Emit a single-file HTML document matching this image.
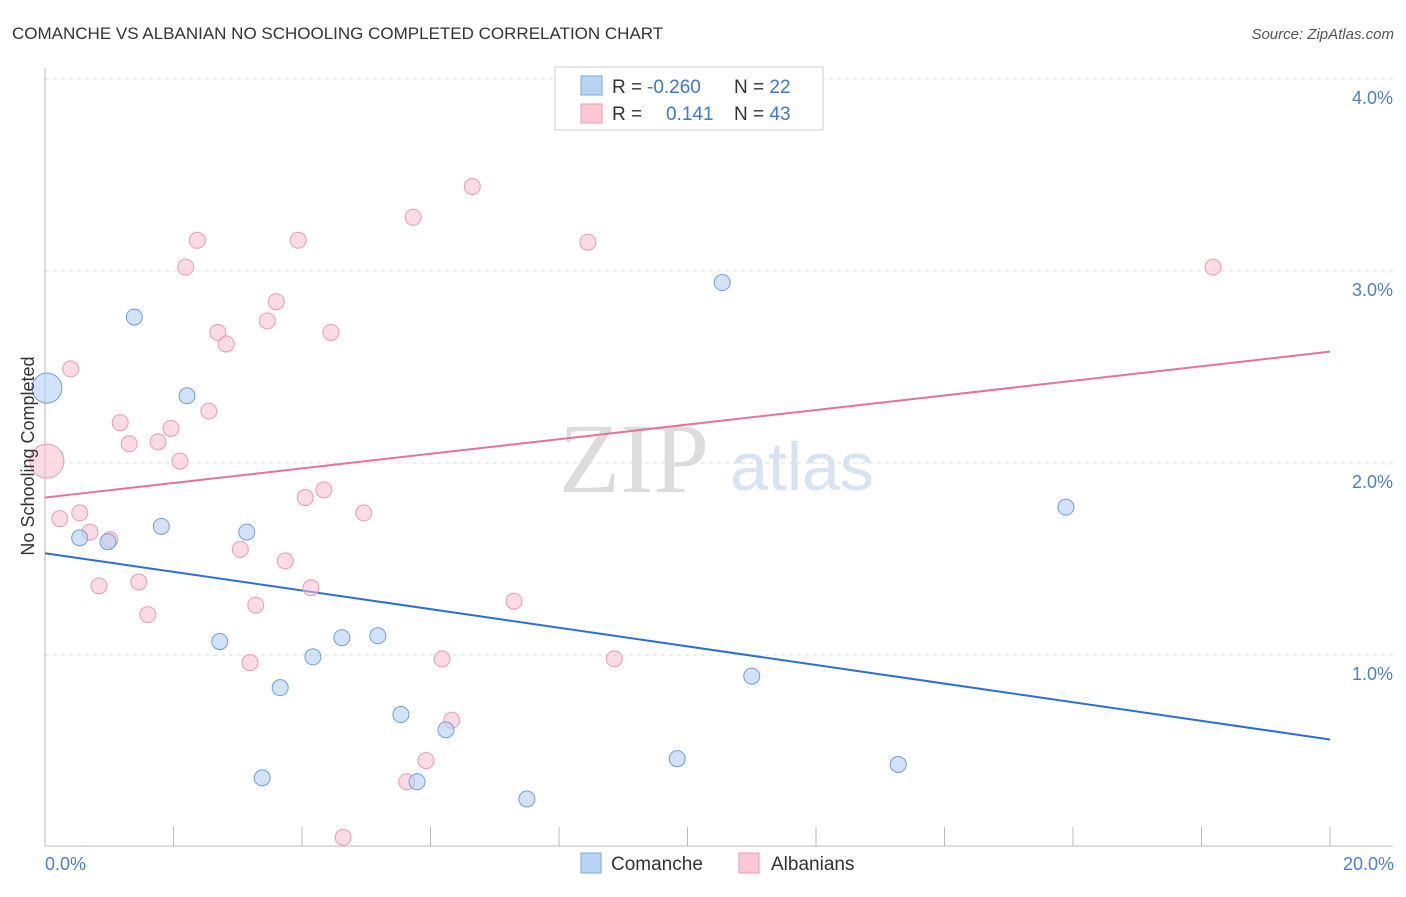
<!DOCTYPE html>
<html><head><meta charset="utf-8"><style>
body{margin:0;background:#fff;font-family:"Liberation Sans",sans-serif}
svg text{font-family:"Liberation Sans",sans-serif}
</style></head><body>
<svg id="chart" width="1406" height="892">
<text x="12" y="39" font-size="17" fill="#333">COMANCHE VS ALBANIAN NO SCHOOLING COMPLETED CORRELATION CHART</text>
<text x="1394" y="39" font-size="15" fill="#555" font-style="italic" text-anchor="end">Source: ZipAtlas.com</text>
<text x="634" y="492" font-size="100" fill="#dcdcdc" font-family="Liberation Serif" text-anchor="middle" style="font-family:'Liberation Serif',serif">ZIP</text>
<text x="802" y="490" font-size="68" fill="#d6e4f5" text-anchor="middle">atlas</text>
<g id="grid"></g><g id="axes"></g><g id="lines"></g><g id="pts"></g>
<text transform="translate(34,456) rotate(-90)" font-size="18" fill="#333" text-anchor="middle">No Schooling Completed</text>
<text x="45" y="870" font-size="18" fill="#4a7fd4">0.0%</text>
<text x="1394" y="870" font-size="18" fill="#4a7fd4" text-anchor="end">20.0%</text>
<g>
<rect x="555" y="67" width="268" height="63" fill="#fff" stroke="#ccc"/>
<rect x="581" y="76" width="21" height="19" fill="#b9d3f5" stroke="#7aa7e6"/>
<rect x="581" y="104" width="21" height="19" fill="#fcc8d6" stroke="#ee9ab2"/>
<text x="612" y="93" font-size="19" fill="#333">R = <tspan fill="#3b78d8" x="647">-0.260</tspan><tspan x="734">N = </tspan><tspan fill="#3b78d8">22</tspan></text>
<text x="612" y="120" font-size="19" fill="#333">R = <tspan fill="#3b78d8" x="666">0.141</tspan><tspan x="734">N = </tspan><tspan fill="#3b78d8">43</tspan></text>
</g>
<g>
<rect x="581" y="853" width="20" height="20" fill="#b9d3f5" stroke="#7aa7e6"/>
<text x="611" y="870" font-size="19" fill="#333">Comanche</text>
<rect x="739" y="853" width="20" height="20" fill="#fcc8d6" stroke="#ee9ab2"/>
<text x="771" y="870" font-size="19" fill="#333">Albanians</text>
</g>
</svg>
<script>
const yTicks=[1,2,3,4];
const yTickLabels=["1.0%","2.0%","3.0%","4.0%"];
const comancheX=[0.03,0.54,0.98,1.39,1.81,2.21,2.72,3.14,3.38,3.66,4.17,4.62,5.18,5.54,5.79,6.24,7.50,9.84,10.54,11.0,13.28,15.89];
const comancheY=[2.39,1.61,1.59,2.76,1.67,2.35,1.07,1.64,0.36,0.83,0.99,1.09,1.10,0.69,0.34,0.61,0.25,0.46,2.94,0.89,0.43,1.77];
const albX=[0.03,0.23,0.40,0.54,0.70,0.84,1.01,1.17,1.31,1.46,1.60,1.76,1.96,2.10,2.19,2.37,2.55,2.69,2.82,3.04,3.19,3.28,3.46,3.60,3.74,3.94,4.05,4.14,4.34,4.45,4.64,4.96,5.63,5.73,5.93,6.18,6.33,6.65,7.30,8.45,8.86,9.32,18.18];
const albY=[2.01,1.71,2.49,1.74,1.64,1.36,1.60,2.21,2.10,1.38,1.21,2.11,2.18,2.01,3.02,3.16,2.27,2.68,2.62,1.55,0.96,1.26,2.74,2.84,1.49,3.16,1.82,1.35,1.86,2.68,0.05,1.74,0.34,3.28,0.45,0.98,0.66,3.44,1.28,3.15,0.98,3.82,3.02];
const comancheTrend=[1.53,0.56];
const albTrend=[1.82,2.58];
const sx=v=>45+v*64.25, sy=v=>847-v*192;
const NS="http://www.w3.org/2000/svg";
function mk(p,t,a){const e=document.createElementNS(NS,t);for(const k in a)e.setAttribute(k,a[k]);p.appendChild(e);return e;}
const grid=document.getElementById('grid'),axes=document.getElementById('axes'),lines=document.getElementById('lines'),pts=document.getElementById('pts');
yTicks.forEach((t,i)=>{
 const l=mk(grid,'line',{x1:45,x2:1393,y1:sy(t),y2:sy(t),stroke:'#ddd','stroke-dasharray':'4,4'});
 
 
 const tx=mk(grid,'text',{x:1393,y:sy(t)+25,'font-size':18,fill:'#4a7fd4','text-anchor':'end'});
 tx.textContent=yTickLabels[i];
 
 
});
const ax=mk(axes,'line',{x1:45,x2:1393,y1:846,y2:846,stroke:'#bbb'});


const ay=mk(axes,'line',{x1:45,x2:45,y1:68,y2:846,stroke:'#bbb'});


for(let i=1;i<=10;i++){const t=mk(axes,'line',{x1:sx(i*2),x2:sx(i*2),y1:827,y2:846,stroke:'#bbb'});
 
 }
const tb=mk(lines,'line',{x1:sx(0),x2:sx(20),y1:sy(comancheTrend[0]),y2:sy(comancheTrend[1]),stroke:'#2b6fd6','stroke-width':2});


const tp=mk(lines,'line',{x1:sx(0),x2:sx(20),y1:sy(albTrend[0]),y2:sy(albTrend[1]),stroke:'#e8719a','stroke-width':2});


albX.forEach((x,i)=>{const c=mk(pts,'circle',{cx:sx(x),cy:sy(albY[i]),r:i==0?17:8,fill:'rgba(250,190,205,0.55)',stroke:'#ee9ab2','stroke-width':1});
 
 });
comancheX.forEach((x,i)=>{const c=mk(pts,'circle',{cx:sx(x),cy:sy(comancheY[i]),r:i==0?15:8,fill:'rgba(180,208,245,0.6)',stroke:'#6d9fe0','stroke-width':1});
 
 });
</script>
</body></html>
